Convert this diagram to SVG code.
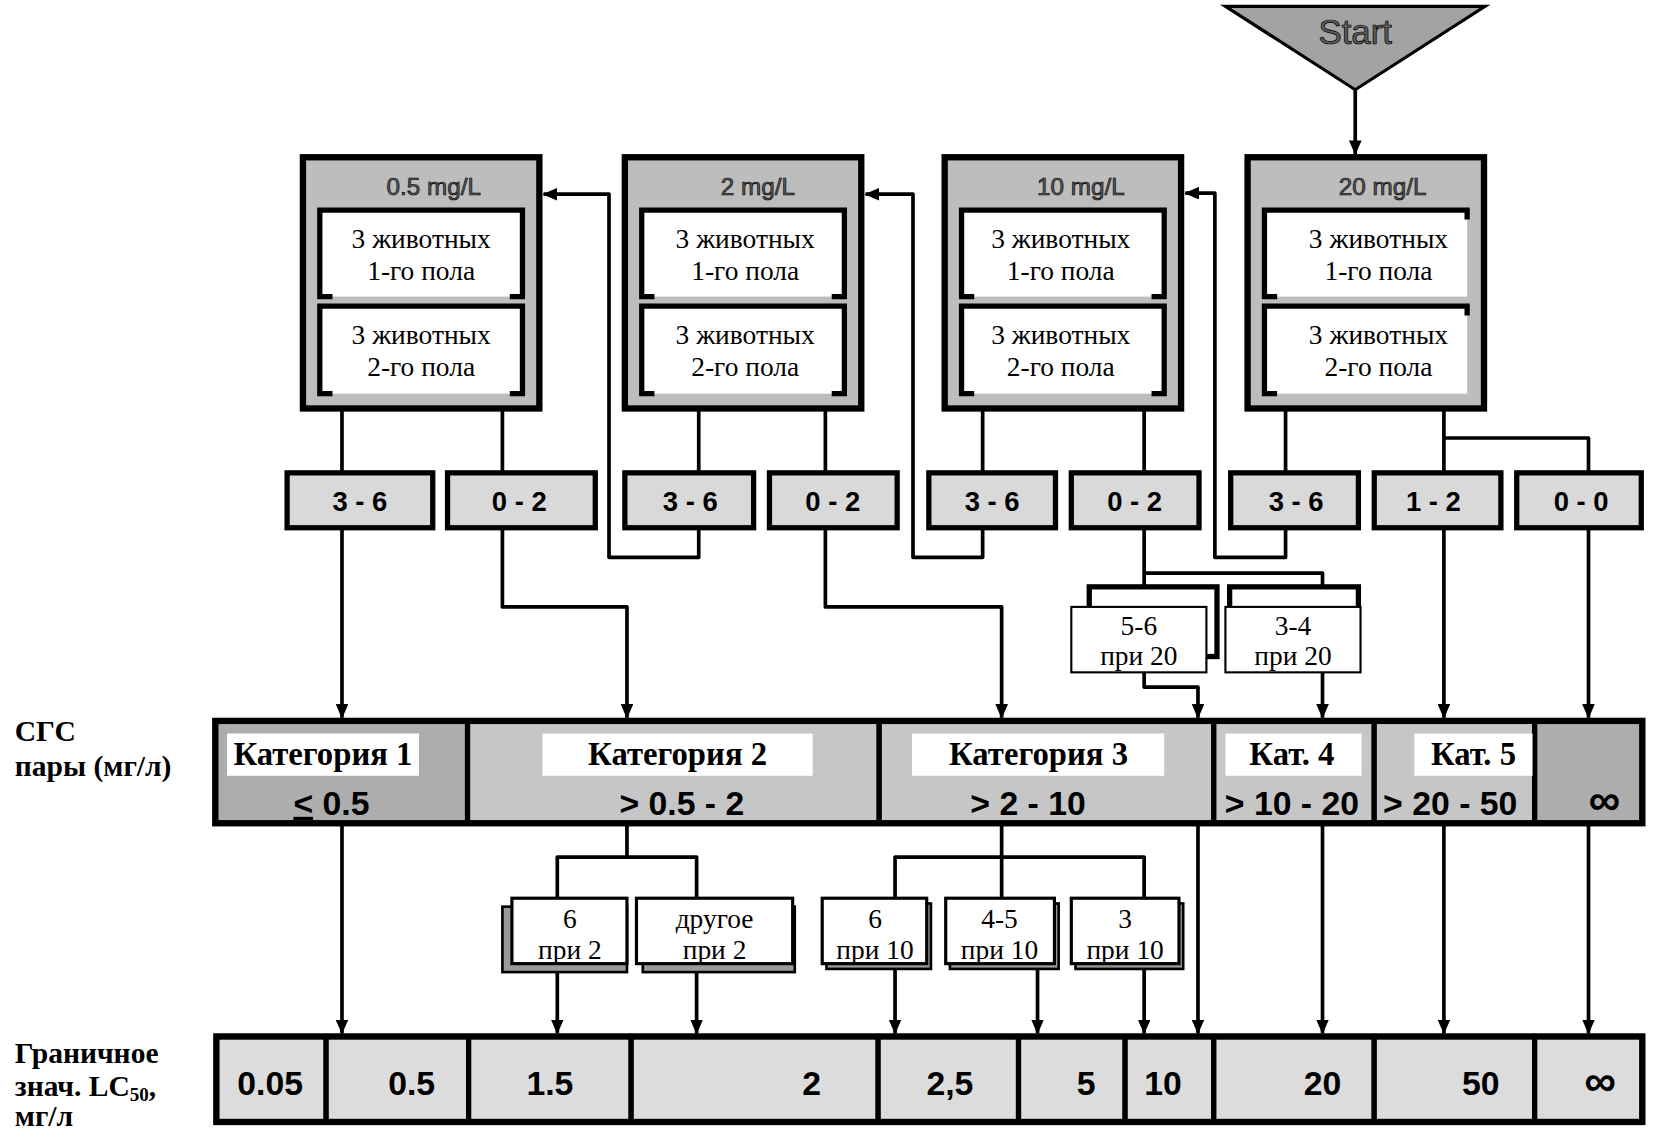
<svg xmlns="http://www.w3.org/2000/svg" width="1655" height="1142" viewBox="0 0 1655 1142">
<defs>
<style>
.bigbox{fill:#bdbdbd;stroke:#000;stroke-width:6}
.inner{fill:#fff}
.brk{fill:none;stroke:#000;stroke-width:5}
.small{fill:#d9d9d9;stroke:#000;stroke-width:5}
.cardf{fill:#fff;stroke:#000;stroke-width:2}
.cardb{fill:#fff;stroke:#000;stroke-width:5}
.mid{fill:#fff;stroke:#000;stroke-width:3}
.shd{fill:#9a9a9a;stroke:#000;stroke-width:2.5}
.conn{fill:none;stroke:#000;stroke-width:3.5;stroke-linejoin:round}
.arr{marker-end:url(#ah)}
.sec{stroke:#000;stroke-width:5}
.dk{fill:#adadad}
.lt{fill:#c6c6c6}
.lc{fill:#dcdcdc}
.wb{fill:#fff}
.ttl{font-family:"Liberation Sans",Arial,sans-serif;font-size:23px;fill:#5a5a5a;stroke:#000;stroke-width:0.6;text-anchor:middle}
.ser{font-family:"Liberation Serif","Times New Roman",serif;font-size:26px;fill:#000;text-anchor:middle}
.num{font-family:"Liberation Sans",Arial,sans-serif;font-weight:bold;fill:#000;text-anchor:middle}
.cat{font-family:"Liberation Serif","Times New Roman",serif;font-weight:bold;font-size:31px;fill:#000;text-anchor:middle}
.lbl{font-family:"Liberation Serif","Times New Roman",serif;font-weight:bold;font-size:28px;fill:#000}
</style>
<marker id="ah" viewBox="0 0 14 12" markerWidth="14" markerHeight="12" refX="13" refY="6" orient="auto" markerUnits="userSpaceOnUse">
<path d="M0,0 L14,6 L0,12 Z" fill="#000"/>
</marker>
</defs>
<rect width="1655" height="1142" fill="#fff"/>
<g transform="scale(1.05548)">

<g id="connectors" class="conn">
<path class="arr" d="M1284,85 V146"/>
<path class="arr" d="M324,387 V680"/>
<path class="arr" d="M476,387 V575 H594 V680"/>
<path class="arr" d="M662,387 V528 H577 V184 H515"/>
<path class="arr" d="M782,387 V575 H949 V680"/>
<path class="arr" d="M931,387 V528 H865 V184 H820"/>
<path d="M1084,387 V556"/>
<path d="M1084,543 H1253 V556"/>
<path class="arr" d="M1218,387 V528 H1151 V183 H1123"/>
<path class="arr" d="M1368,387 V680"/>
<path class="arr" d="M1368,415 H1505 V680"/>
<path class="arr" d="M1084,637 V651 H1135 V680"/>
<path class="arr" d="M1253,637 V680"/>
<path class="arr" d="M324,780 V979"/>
<path d="M594,780 V812 M528,851 V812 H660 V851"/>
<path class="arr" d="M528,913 V979"/>
<path class="arr" d="M660,913 V979"/>
<path d="M949,780 V851 M848,851 V812 H1084 V851"/>
<path class="arr" d="M848,913 V979"/>
<path class="arr" d="M983,913 V979"/>
<path class="arr" d="M1084,913 V979"/>
<path class="arr" d="M1135,780 V979"/>
<path class="arr" d="M1253,780 V979"/>
<path class="arr" d="M1368,780 V979"/>
<path class="arr" d="M1505,780 V979"/>
</g>

<g id="start">
<polygon points="1161,6 1407,6 1284,85" fill="#a3a3a3" stroke="#000" stroke-width="3"/>
<text x="1284" y="42" font-family="'Liberation Sans',Arial,sans-serif" font-size="33" fill="#5e5e5e" stroke="#000" stroke-width="0.7" text-anchor="middle">Start</text>
</g>

<g id="box-0-5">
<rect class="bigbox" x="287" y="149" width="224" height="238"/>
<text class="ttl" x="411" y="185">0.5 mg/L</text>
<rect class="inner" x="303" y="199" width="192" height="82"/>
<path class="brk" d="M315,281 H303 V199 H495 V281 H483"/>
<rect class="inner" x="303" y="290" width="192" height="83"/>
<path class="brk" d="M315,373 H303 V290 H495 V373 H483"/>
<text class="ser" x="399" y="235">3 животных</text>
<text class="ser" x="399" y="265">1-го пола</text>
<text class="ser" x="399" y="326">3 животных</text>
<text class="ser" x="399" y="356">2-го пола</text>
</g>

<g id="box-2">
<rect class="bigbox" x="592" y="149" width="224" height="238"/>
<text class="ttl" x="718" y="185">2  mg/L</text>
<rect class="inner" x="608" y="199" width="192" height="82"/>
<path class="brk" d="M620,281 H608 V199 H800 V281 H788"/>
<rect class="inner" x="608" y="290" width="192" height="83"/>
<path class="brk" d="M620,373 H608 V290 H800 V373 H788"/>
<text class="ser" x="706" y="235">3 животных</text>
<text class="ser" x="706" y="265">1-го пола</text>
<text class="ser" x="706" y="326">3 животных</text>
<text class="ser" x="706" y="356">2-го пола</text>
</g>

<g id="box-10">
<rect class="bigbox" x="895" y="149" width="224" height="238"/>
<text class="ttl" x="1024" y="185">10 mg/L</text>
<rect class="inner" x="911" y="199" width="192" height="82"/>
<path class="brk" d="M923,281 H911 V199 H1103 V281 H1091"/>
<rect class="inner" x="911" y="290" width="192" height="83"/>
<path class="brk" d="M923,373 H911 V290 H1103 V373 H1091"/>
<text class="ser" x="1005" y="235">3 животных</text>
<text class="ser" x="1005" y="265">1-го пола</text>
<text class="ser" x="1005" y="326">3 животных</text>
<text class="ser" x="1005" y="356">2-го пола</text>
</g>

<g id="box-20">
<rect class="bigbox" x="1182" y="149" width="224" height="238"/>
<text class="ttl" x="1310" y="185">20 mg/L</text>
<rect class="inner" x="1198" y="199" width="192" height="82"/>
<path class="brk" d="M1210,281 H1198 V199 H1390 V208"/>
<rect class="inner" x="1198" y="290" width="192" height="83"/>
<path class="brk" d="M1210,373 H1198 V290 H1390 V299"/>
<text class="ser" x="1306" y="235">3 животных</text>
<text class="ser" x="1306" y="265">1-го пола</text>
<text class="ser" x="1306" y="326">3 животных</text>
<text class="ser" x="1306" y="356">2-го пола</text>
</g>

<g id="r1"><rect class="small" x="272" y="448" width="138" height="52"/><text class="num" font-size="26" x="341" y="484">3 - 6</text></g>
<g id="r2"><rect class="small" x="424" y="448" width="140" height="52"/><text class="num" font-size="26" x="492" y="484">0 - 2</text></g>
<g id="r3"><rect class="small" x="592" y="448" width="122" height="52"/><text class="num" font-size="26" x="654" y="484">3 - 6</text></g>
<g id="r4"><rect class="small" x="729" y="448" width="121" height="52"/><text class="num" font-size="26" x="789" y="484">0 - 2</text></g>
<g id="r5"><rect class="small" x="880" y="448" width="120" height="52"/><text class="num" font-size="26" x="940" y="484">3 - 6</text></g>
<g id="r6"><rect class="small" x="1015" y="448" width="121" height="52"/><text class="num" font-size="26" x="1075" y="484">0 - 2</text></g>
<g id="r7"><rect class="small" x="1166" y="448" width="121" height="52"/><text class="num" font-size="26" x="1228" y="484">3 - 6</text></g>
<g id="r8"><rect class="small" x="1302" y="448" width="120" height="52"/><text class="num" font-size="26" x="1358" y="484">1 - 2</text></g>
<g id="r9"><rect class="small" x="1437" y="448" width="118" height="52"/><text class="num" font-size="26" x="1498" y="484">0 - 0</text></g>

<g id="c-5-6">
<rect class="cardb" x="1032" y="556" width="121" height="66"/>
<rect class="cardf" x="1015" y="575" width="128" height="62"/>
<text class="ser" x="1079" y="602">5-6</text>
<text class="ser" x="1079" y="630">при 20</text>
</g>
<g id="c-3-4">
<rect class="cardb" x="1165" y="556" width="122" height="60"/>
<rect class="cardf" x="1161" y="575" width="128" height="62"/>
<text class="ser" x="1225" y="602">3-4</text>
<text class="ser" x="1225" y="630">при 20</text>
</g>

<g id="category-bar">
<rect class="sec dk" x="204" y="683" width="239" height="97"/>
<rect class="sec lt" x="443" y="683" width="390" height="97"/>
<rect class="sec lt" x="833" y="683" width="317" height="97"/>
<rect class="sec lt" x="1150" y="683" width="152" height="97"/>
<rect class="sec lt" x="1302" y="683" width="152" height="97"/>
<rect class="sec dk" x="1454" y="683" width="102" height="97"/>
<rect x="204" y="683" width="1352" height="97" fill="none" stroke="#000" stroke-width="6"/>
<rect class="wb" x="215" y="695" width="182" height="40"/>
<rect class="wb" x="514" y="695" width="256" height="40"/>
<rect class="wb" x="864" y="695" width="239" height="40"/>
<rect class="wb" x="1161" y="695" width="129" height="40"/>
<rect class="wb" x="1340" y="695" width="112" height="40"/>
<text class="cat" x="306" y="725">Категория 1</text>
<text class="cat" x="642" y="725">Категория 2</text>
<text class="cat" x="984" y="725">Категория 3</text>
<text class="cat" x="1224" y="725">Кат. 4</text>
<text class="cat" x="1396" y="725">Кат. 5</text>
<text class="num" font-size="32" x="314" y="772"><tspan text-decoration="underline">&lt;</tspan> 0.5</text>
<text class="num" font-size="32" x="646" y="772">&gt; 0.5 - 2</text>
<text class="num" font-size="32" x="974" y="772">&gt; 2 - 10</text>
<text class="num" font-size="32" x="1224" y="772">&gt; 10 - 20</text>
<text class="num" font-size="32" x="1374" y="772">&gt; 20 - 50</text>
<text class="num" font-size="42" x="1520" y="772">∞</text>
</g>

<g id="m-6-2"><rect class="shd" x="476" y="859" width="118" height="62"/><rect class="mid" x="485" y="851" width="109" height="62"/><text class="ser" x="540" y="879">6</text><text class="ser" x="540" y="909">при 2</text></g>
<g id="m-other-2"><rect class="shd" x="609" y="859" width="144" height="62"/><rect class="mid" x="603" y="851" width="148" height="62"/><text class="ser" x="677" y="879">другое</text><text class="ser" x="677" y="909">при 2</text></g>
<g id="m-6-10"><rect class="shd" x="783" y="856" width="99" height="62"/><rect class="mid" x="779" y="851" width="99" height="62"/><text class="ser" x="829" y="879">6</text><text class="ser" x="829" y="909">при 10</text></g>
<g id="m-4-5-10"><rect class="shd" x="900" y="856" width="103" height="62"/><rect class="mid" x="896" y="851" width="103" height="62"/><text class="ser" x="947" y="879">4-5</text><text class="ser" x="947" y="909">при 10</text></g>
<g id="m-3-10"><rect class="shd" x="1019" y="856" width="102" height="62"/><rect class="mid" x="1015" y="851" width="102" height="62"/><text class="ser" x="1066" y="879">3</text><text class="ser" x="1066" y="909">при 10</text></g>

<g id="lc50-bar">
<rect class="sec lc" x="205" y="982" width="104" height="81"/>
<rect class="sec lc" x="309" y="982" width="135" height="81"/>
<rect class="sec lc" x="444" y="982" width="154" height="81"/>
<rect class="sec lc" x="598" y="982" width="234" height="81"/>
<rect class="sec lc" x="832" y="982" width="133" height="81"/>
<rect class="sec lc" x="965" y="982" width="101" height="81"/>
<rect class="sec lc" x="1066" y="982" width="84" height="81"/>
<rect class="sec lc" x="1150" y="982" width="152" height="81"/>
<rect class="sec lc" x="1302" y="982" width="152" height="81"/>
<rect class="sec lc" x="1454" y="982" width="102" height="81"/>
<rect x="205" y="982" width="1351" height="81" fill="none" stroke="#000" stroke-width="6"/>
<text class="num" font-size="32" x="256" y="1037">0.05</text>
<text class="num" font-size="32" x="390" y="1037">0.5</text>
<text class="num" font-size="32" x="521" y="1037">1.5</text>
<text class="num" font-size="32" x="769" y="1037">2</text>
<text class="num" font-size="32" x="900" y="1037">2,5</text>
<text class="num" font-size="32" x="1029" y="1037">5</text>
<text class="num" font-size="32" x="1102" y="1037">10</text>
<text class="num" font-size="32" x="1253" y="1037">20</text>
<text class="num" font-size="32" x="1403" y="1037">50</text>
<text class="num" font-size="42" x="1516" y="1038">∞</text>
</g>

<g id="labels">
<text class="lbl" x="14" y="702">СГС</text>
<text class="lbl" x="14" y="735">пары (мг/л)</text>
<text class="lbl" x="14" y="1007">Граничное</text>
<text class="lbl" x="14" y="1038">знач. LC<tspan font-size="18" dy="5">50</tspan><tspan dy="-5">,</tspan></text>
<text class="lbl" x="14" y="1067">мг/л</text>
</g>

</g>
</svg>
